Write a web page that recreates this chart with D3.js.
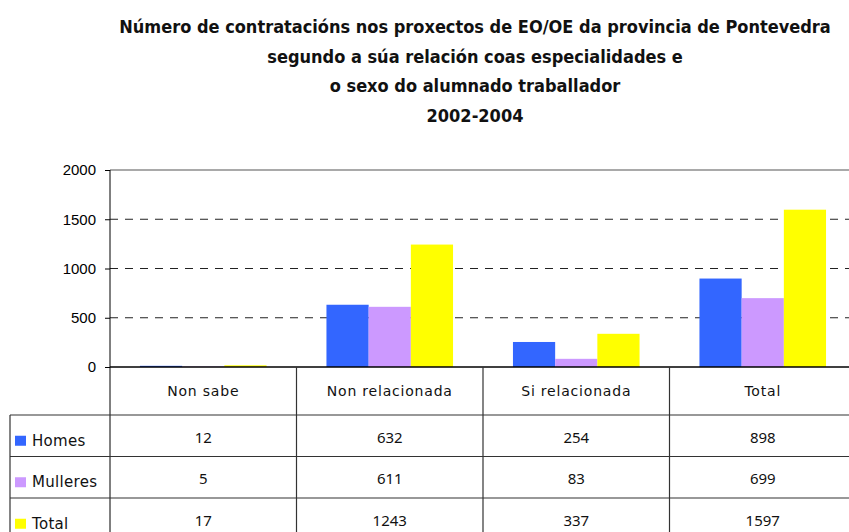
<!DOCTYPE html>
<html>
<head>
<meta charset="utf-8">
<script src="https://cdn.jsdelivr.net/npm/d3@7"></script>
<style>
    body { margin: 0; background: #fff; }
    svg { display: block; }
</style>
</head>
<body>
<div id="chartdiv"></div>
<script>
/*global d3 */
(function () {
    "use strict";

    var titleLines = [
        "Número de contratacións nos proxectos de EO/OE da provincia de Pontevedra",
        "segundo a súa relación coas especialidades e",
        "o sexo do alumnado traballador",
        "2002-2004"
    ];
    var categories = ["Non sabe", "Non relacionada", "Si relacionada", "Total"];
    var seriesNames = ["Homes", "Mulleres", "Total"];
    var homes = [12, 632, 254, 898];
    var mulleres = [5, 611, 83, 699];
    var totals = [17, 1243, 337, 1597];
    var yTicks = [0, 500, 1000, 1500, 2000];
    var colors = ["#3366ff", "#cc99ff", "#ffff00"];

    var cv = {width: 849, height: 532};  //chart vars
    cv.series = [homes, mulleres, totals];
    cv.plot = {left: 110, right: 856, top: 170, bottom: 367};
    cv.rowTop = 415;
    cv.rowH = 41.5;
    cv.legendLeft = 10;

    cv.svg = d3.select("#chartdiv").append("svg")
        .attr("width", cv.width)
        .attr("height", cv.height);

    //title
    cv.svg.append("g").selectAll("text")
        .data(titleLines)
        .enter().append("text")
        .attr("x", 475)
        .attr("y", function (d, i) { return 33 + i * 29.7; })
        .attr("text-anchor", "middle")
        .style("font-family", "'DejaVu Sans Condensed', 'DejaVu Sans', sans-serif")
        .style("font-weight", "bold")
        .style("font-size", "18px")
        .style("fill", "#111")
        .text(function (d) { return d; });

    cv.x0 = d3.scaleBand().domain(categories)
        .range([cv.plot.left, cv.plot.right]).padding(0);
    cv.x1 = d3.scaleBand().domain(seriesNames)
        .range([0, cv.x0.bandwidth()]).paddingInner(0).paddingOuter(0.71);
    cv.y = d3.scaleLinear().domain([0, 2000])
        .range([cv.plot.bottom, cv.plot.top]);

    //gridlines
    cv.svg.append("g").selectAll("line")
        .data(yTicks.filter(function (t) { return t > 0 && t < 2000; }))
        .enter().append("line")
        .attr("x1", cv.plot.left).attr("x2", cv.width)
        .attr("y1", function (d) { return cv.y(d); })
        .attr("y2", function (d) { return cv.y(d); })
        .attr("stroke", "#222")
        .attr("stroke-dasharray", "8,7");
    cv.svg.append("line")
        .attr("x1", cv.plot.left).attr("x2", cv.width)
        .attr("y1", cv.y(2000)).attr("y2", cv.y(2000))
        .attr("stroke", "#8c8c8c")
        .attr("stroke-width", 1.5);

    //bars
    cv.svg.append("g").selectAll("g")
        .data(cv.series)
        .enter().append("g")
        .attr("fill", function (d, i) { return colors[i]; })
        .each(function (vals, si) {
            d3.select(this).selectAll("rect")
                .data(vals)
                .enter().append("rect")
                .attr("x", function (d, ci) {
                    return cv.x0(categories[ci]) + cv.x1(seriesNames[si]); })
                .attr("width", cv.x1.bandwidth())
                .attr("y", function (d) { return cv.y(d); })
                .attr("height", function (d) { return cv.y(0) - cv.y(d); });
        });

    //y axis
    cv.yAxis = d3.axisLeft(cv.y).tickValues(yTicks)
        .tickFormat(d3.format("d")).tickSize(5).tickPadding(9);
    cv.svg.append("g")
        .attr("transform", "translate(" + cv.plot.left + ",0)")
        .call(cv.yAxis)
        .call(function (g) {
            g.select(".domain").remove();
            g.selectAll("text")
                .style("font-family", "'Liberation Sans', Arial, sans-serif")
                .style("font-size", "15px")
                .style("fill", "#000");
        });
    cv.svg.append("line")
        .attr("x1", cv.plot.left).attr("x2", cv.plot.left)
        .attr("y1", cv.plot.top).attr("y2", cv.height)
        .attr("stroke", "#000");

    //data table grid
    cv.tbl = cv.svg.append("g");
    cv.tbl.append("line")
        .attr("x1", cv.plot.left).attr("x2", cv.width)
        .attr("y1", cv.plot.bottom).attr("y2", cv.plot.bottom)
        .attr("stroke", "#000").attr("stroke-width", 1.5);
    cv.tbl.selectAll("line.vsep")
        .data(categories.slice(1))
        .enter().append("line")
        .attr("class", "vsep")
        .attr("x1", function (d) { return cv.x0(d); })
        .attr("x2", function (d) { return cv.x0(d); })
        .attr("y1", cv.plot.bottom).attr("y2", cv.height)
        .attr("stroke", "#333").attr("stroke-width", 1.2);
    cv.tbl.selectAll("line.hsep")
        .data(seriesNames)
        .enter().append("line")
        .attr("class", "hsep")
        .attr("x1", cv.legendLeft).attr("x2", cv.width)
        .attr("y1", function (d, i) { return cv.rowTop + i * cv.rowH; })
        .attr("y2", function (d, i) { return cv.rowTop + i * cv.rowH; })
        .attr("stroke", "#333").attr("stroke-width", 1.2);
    cv.tbl.append("line")
        .attr("x1", cv.legendLeft).attr("x2", cv.legendLeft)
        .attr("y1", cv.rowTop).attr("y2", cv.height)
        .attr("stroke", "#333").attr("stroke-width", 1.2);

    //category labels
    cv.tbl.selectAll("text.cat")
        .data(categories)
        .enter().append("text")
        .attr("class", "cat")
        .attr("x", function (d) { return cv.x0(d) + cv.x0.bandwidth() / 2; })
        .attr("y", 396)
        .attr("text-anchor", "middle")
        .style("font-family", "'DejaVu Sans', Verdana, sans-serif")
        .style("font-size", "14px")
        .style("letter-spacing", "0.8px")
        .style("fill", "#111")
        .text(function (d) { return d; });

    //legend rows
    cv.rows = cv.tbl.selectAll("g.row")
        .data(cv.series)
        .enter().append("g")
        .attr("class", "row")
        .attr("transform", function (d, i) {
            return "translate(0," + (cv.rowTop + i * cv.rowH + cv.rowH / 2) + ")"; });
    cv.rows.append("rect")
        .attr("x", 15).attr("y", 0)
        .attr("width", 11).attr("height", 10)
        .attr("fill", function (d, i) { return colors[i]; });
    cv.rows.append("text")
        .attr("x", 32).attr("y", 10)
        .style("font-family", "'DejaVu Sans', Verdana, sans-serif")
        .style("font-size", "15px")
        .style("letter-spacing", "0.3px")
        .style("fill", "#111")
        .text(function (d, i) { return seriesNames[i]; });
    cv.rows.selectAll("text.val")
        .data(function (d) { return d; })
        .enter().append("text")
        .attr("class", "val")
        .attr("x", function (d, i) {
            return cv.x0(categories[i]) + cv.x0.bandwidth() / 2; })
        .attr("y", 7)
        .attr("text-anchor", "middle")
        .style("font-family", "'Noto Sans', sans-serif")
        .style("font-size", "15px")
        .style("fill", "#111")
        .text(function (d) { return d; });
}());
</script>
</body>
</html>
